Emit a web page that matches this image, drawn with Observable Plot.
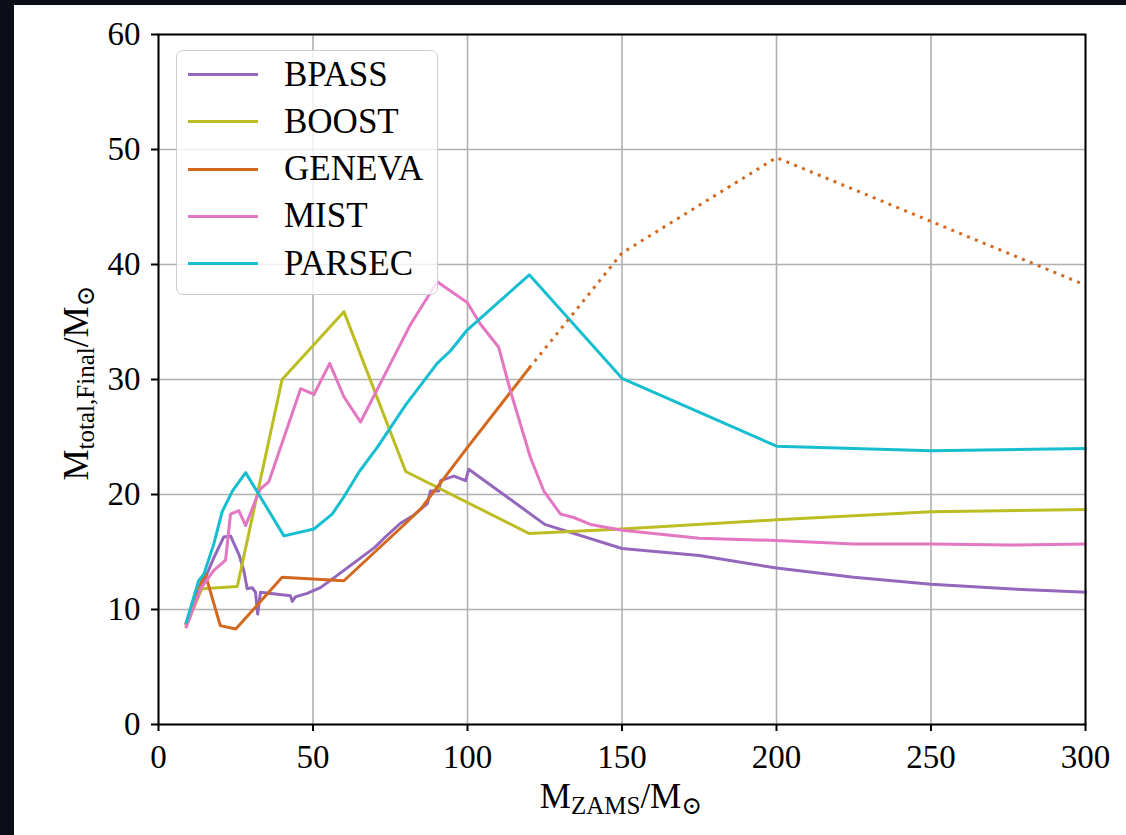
<!DOCTYPE html>
<html>
<head>
<meta charset="utf-8">
<script src="https://cdn.jsdelivr.net/npm/d3@7"></script>
<script src="https://cdn.jsdelivr.net/npm/@observablehq/plot@0.6"></script>
<style>
  html, body { margin: 0; padding: 0; }
  body { width: 1126px; height: 835px; background: #0b0e17; position: relative; overflow: hidden; font-family: "Liberation Serif", "DejaVu Serif", serif; }
  #panel { position: absolute; left: 14px; top: 5px; width: 1112px; height: 830px; background: #ffffff; }
  #legend { position: absolute; left: 176px; top: 50px; width: 262px; height: 245px; box-sizing: border-box;
            border: 1.5px solid #cccccc; border-radius: 7px; background: rgba(255,255,255,0.8); }
  .row { position: absolute; left: 0; height: 40px; display: flex; align-items: center; }
  .sw { width: 70px; height: 3px; margin-left: 11px; }
  .lab { margin-left: 26px; font-size: 35px; color: #000; line-height: 40px; }
</style>
</head>
<body>
<div id="panel"></div>
<div id="legend"></div>
<script>
// ---- data ----
const models = ["BPASS", "BOOST", "GENEVA", "MIST", "PARSEC"];
const colors = ["#9467bd", "#bcbd22", "#d2691e", "#e377c2", "#17becf"];

const bpassM = [9, 12.5, 15.2, 17.9, 21.1, 23.3, 26, 27.6, 28.7, 30.3, 31.4, 32.1, 33, 42.7, 43.3, 44.3, 48.1, 52.4, 56, 60, 65, 70, 73, 78.3, 82.6, 87, 88, 90.7, 91.3, 95.6, 99.4, 100.4, 125, 150, 175, 200, 225, 250, 275, 300];
const bpassV = [8.8, 11.5, 12.8, 14.5, 16.3, 16.4, 14.8, 13.4, 11.8, 11.9, 11.5, 9.6, 11.5, 11.2, 10.7, 11.1, 11.4, 11.9, 12.6, 13.4, 14.4, 15.4, 16.2, 17.5, 18.2, 19.2, 20.3, 20.3, 21.2, 21.6, 21.2, 22.2, 17.4, 15.3, 14.7, 13.6, 12.8, 12.2, 11.8, 11.5];

const boostM = [9, 14, 25.5, 40, 60, 80, 120, 150, 200, 250, 300];
const boostV = [8.6, 11.8, 12.0, 30, 35.9, 22, 16.6, 17.0, 17.8, 18.5, 18.7];

const genevaM = [9, 15, 20, 25, 40, 60, 70, 80, 85, 100, 120];
const genevaV = [8.8, 13.2, 8.6, 8.3, 12.8, 12.5, 15.0, 17.5, 18.8, 24.1, 31.0];
const genevaDotM = [120, 150, 200, 300];
const genevaDotV = [31.0, 41.0, 49.3, 38.2];

const mistM = [9, 13.6, 17.9, 21.7, 23.3, 26, 28.2, 31.4, 33, 35.7, 46, 50.3, 55.4, 60, 65.4, 75.1, 81.6, 90.2, 95, 99.9, 104.2, 110.1, 113.9, 120.4, 124.7, 130.1, 134.4, 139.8, 150, 175, 200, 225, 250, 275, 300];
const mistV = [8.5, 11.8, 13.4, 14.3, 18.3, 18.6, 17.3, 19.5, 20.5, 21.1, 29.2, 28.7, 31.4, 28.5, 26.3, 31.4, 34.8, 38.5, 37.6, 36.7, 34.8, 32.8, 29.0, 23.2, 20.3, 18.3, 18.0, 17.4, 16.9, 16.2, 16.0, 15.7, 15.7, 15.6, 15.7];

const parsecM = [9, 13, 14.7, 17.9, 20.6, 23.9, 28.2, 40.6, 50.3, 56.2, 60, 65, 70.8, 80, 90.2, 94.5, 99.9, 120, 150, 200, 250, 300];
const parsecV = [8.9, 12.5, 13.1, 15.7, 18.5, 20.3, 21.9, 16.4, 17.0, 18.3, 19.8, 22.0, 24.1, 27.8, 31.4, 32.5, 34.3, 39.1, 30.1, 24.2, 23.8, 24.0];

const xTicks = [0, 50, 100, 150, 200, 250, 300];
const yTicks = [0, 10, 20, 30, 40, 50, 60];

// ---- build tables ----
const seriesM = [bpassM, boostM, genevaM, mistM, parsecM];
const seriesV = [bpassV, boostV, genevaV, mistV, parsecV];
const solid = [];
models.forEach((name, i) => seriesM[i].forEach((m, j) => solid.push({model: name, m, v: seriesV[i][j]})));
const dotted = genevaDotM.map((m, j) => ({model: "GENEVA", m, v: genevaDotV[j]}));

const chart = Plot.plot({
  width: 1112,
  height: 830,
  marginLeft: 144,
  marginRight: 41,
  marginTop: 29,
  marginBottom: 111,
  style: {fontFamily: "'Liberation Serif', 'DejaVu Serif', serif", fontSize: "32px", background: "white", color: "black"},
  x: {domain: [0, 300], label: null},
  y: {domain: [0, 60], label: null},
  color: {domain: models, range: colors},
  marks: [
    Plot.gridX(xTicks, {stroke: "#b0b0b0", strokeOpacity: 1, strokeWidth: 1.6}),
    Plot.gridY(yTicks, {stroke: "#b0b0b0", strokeOpacity: 1, strokeWidth: 1.6}),
    Plot.line(solid, {x: "m", y: "v", z: "model", stroke: "model", strokeWidth: 3, strokeLinejoin: "round", strokeLinecap: "square"}),
    Plot.line(dotted, {x: "m", y: "v", stroke: "model", strokeWidth: 3, strokeDasharray: "3,5.5", strokeLinecap: "butt"}),
    Plot.frame({stroke: "black", strokeWidth: 2}),
    Plot.axisX(xTicks, {tickSize: 7, tickPadding: 13, strokeWidth: 2, fontSize: 33}),
    Plot.axisY(yTicks, {tickSize: 7, tickPadding: 11, strokeWidth: 2, fontSize: 33})
  ]
});
document.getElementById("panel").appendChild(chart);

// axis titles with subscripts
const svg = d3.select(chart);
const xl = svg.append("text")
  .attr("x", 607).attr("y", 803)
  .attr("text-anchor", "middle")
  .attr("font-size", 35).attr("fill", "black");
xl.append("tspan").text("M");
xl.append("tspan").attr("font-size", 25).attr("dy", 6).text("ZAMS");
xl.append("tspan").attr("dy", -6).text("/M");
xl.append("tspan").attr("font-size", 25).attr("dy", 6).text("⊙");

const yl = svg.append("text")
  .attr("transform", "translate(74,378) rotate(-90)")
  .attr("text-anchor", "middle")
  .attr("font-size", 35).attr("fill", "black");
yl.append("tspan").text("M");
yl.append("tspan").attr("font-size", 25).attr("dy", 6).text("total,Final");
yl.append("tspan").attr("dy", -6).text("/M");
yl.append("tspan").attr("font-size", 25).attr("dy", 6).text("⊙");

// legend
const legend = document.getElementById("legend");
models.forEach((name, i) => {
  const row = document.createElement("div");
  row.className = "row";
  row.style.top = (25 + i * 47.3 - 20 - 1.5) + "px";
  const sw = document.createElement("div");
  sw.className = "sw";
  sw.style.background = colors[i];
  const lab = document.createElement("span");
  lab.className = "lab";
  lab.textContent = name;
  row.appendChild(sw);
  row.appendChild(lab);
  legend.appendChild(row);
});
</script>
</body>
</html>
